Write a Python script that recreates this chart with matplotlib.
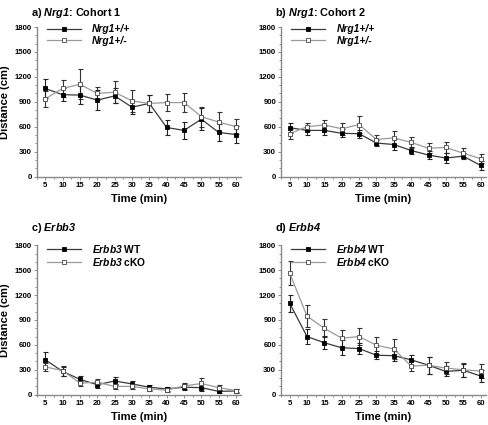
import matplotlib
matplotlib.use("Agg")
import matplotlib.pyplot as plt
from matplotlib.ticker import MultipleLocator
from matplotlib.font_manager import FontProperties
import numpy as np

plt.rcParams['font.family'] = ['Liberation Sans', 'DejaVu Sans']
plt.rcParams['mathtext.fontset'] = 'custom'
plt.rcParams['mathtext.rm'] = 'Liberation Sans:bold'
plt.rcParams['mathtext.it'] = 'Liberation Sans:italic:bold'
plt.rcParams['mathtext.bf'] = 'Liberation Sans:bold'
plt.rcParams['mathtext.bfit'] = 'Liberation Sans:italic:bold'

time = [5, 10, 15, 20, 25, 30, 35, 40, 45, 50, 55, 60]

# Panel a: Nrg1 cohort 1
a_wt = [1060, 985, 980, 920, 970, 835, 880, 590, 555, 690, 530, 505]
a_wt_err = [110, 80, 110, 120, 90, 80, 100, 90, 100, 130, 100, 100]
a_het = [935, 1060, 1110, 1000, 1015, 910, 880, 890, 890, 720, 655, 600]
a_het_err = [100, 100, 180, 80, 130, 130, 100, 100, 110, 120, 120, 90]

# Panel b: Nrg1 cohort 2
b_wt = [588, 555, 555, 520, 515, 403, 385, 313, 258, 222, 245, 133]
b_wt_err = [60, 50, 50, 50, 50, 40, 70, 40, 50, 60, 40, 50]
b_het = [515, 600, 620, 575, 625, 445, 465, 410, 340, 350, 280, 215]
b_het_err = [60, 50, 65, 75, 100, 60, 80, 70, 60, 70, 60, 50]

# Panel c: Erbb3
c_wt = [422, 281, 185, 120, 165, 130, 90, 70, 90, 85, 40, 45]
c_wt_err = [90, 50, 45, 35, 45, 40, 30, 25, 35, 40, 20, 20]
c_ko = [335, 290, 140, 150, 100, 100, 70, 55, 105, 135, 85, 50]
c_ko_err = [50, 60, 30, 35, 30, 30, 25, 25, 40, 70, 30, 20]

# Panel d: Erbb4
d_wt = [1100, 700, 625, 565, 555, 475, 470, 420, 355, 280, 295, 225]
d_wt_err = [100, 90, 80, 90, 70, 50, 60, 60, 100, 60, 80, 70]
d_ko = [1465, 945, 800, 680, 700, 595, 550, 345, 355, 320, 300, 285]
d_ko_err = [140, 135, 110, 100, 100, 100, 120, 60, 100, 75, 85, 80]

W, H = 488, 425
fig = plt.figure(figsize=(W / 100, H / 100), dpi=100)

col_left = [36.5 / W, 281.0 / W]
row_bottom = [1 - 176.5 / H, 1 - 394.7 / H]
aw = 204.8 / W
ah = 149.5 / H

GRAY_SPINE = '#8a8a8a'
panels = [
    (0, 0, a_wt, a_wt_err, a_het, a_het_err, ['Nrg1+/+', 'Nrg1+/-'], 'a)', r'$\mathbfit{Nrg1}$: Cohort 1', True, True),
    (0, 1, b_wt, b_wt_err, b_het, b_het_err, ['Nrg1+/+', 'Nrg1+/-'], 'b)', r'$\mathbfit{Nrg1}$: Cohort 2', False, True),
    (1, 0, c_wt, c_wt_err, c_ko, c_ko_err, [r'$\mathbfit{Erbb3}$ WT', r'$\mathbfit{Erbb3}$ cKO'], 'c)', r'$\mathbfit{Erbb3}$', True, False),
    (1, 1, d_wt, d_wt_err, d_ko, d_ko_err, [r'$\mathbfit{Erbb4}$ WT', r'$\mathbfit{Erbb4}$ cKO'], 'd)', r'$\mathbfit{Erbb4}$', False, False),
]

for r, c, wt, wte, mu, mue, labels, letter, title, ylab, allital in panels:
    ax = fig.add_axes([col_left[c], row_bottom[r], aw, ah])
    ax.errorbar(time, mu, yerr=mue, fmt='none', ecolor='#333333', elinewidth=0.8,
                capsize=1.8, capthick=0.8, zorder=2)
    ax.errorbar(time, wt, yerr=wte, fmt='none', ecolor='#222222', elinewidth=0.8,
                capsize=1.8, capthick=0.8, zorder=2)
    l1, = ax.plot(time, wt, color='#3a3a3a', lw=0.9, marker='s', ms=3.4,
                  mfc='black', mec='black', mew=0.6, zorder=3)
    l2, = ax.plot(time, mu, color='#9a9a9a', lw=0.9, marker='s', ms=3.4,
                  mfc='white', mec='#444444', mew=0.6, zorder=4)
    ax.set_xlim(2.5, 61.5)
    ax.set_ylim(0, 1800)
    ax.set_xticks(time)
    ax.set_yticks([0, 300, 600, 900, 1200, 1500, 1800])
    ax.yaxis.set_minor_locator(MultipleLocator(100))
    ax.xaxis.set_minor_locator(MultipleLocator(2.5))
    for s in ['top', 'right']:
        ax.spines[s].set_visible(False)
    for s in ['left', 'bottom']:
        ax.spines[s].set_color(GRAY_SPINE)
        ax.spines[s].set_linewidth(1.0)
    ax.tick_params(which='both', direction='out', color=GRAY_SPINE, width=0.7)
    ax.tick_params(which='major', length=2.4)
    ax.tick_params(which='minor', length=1.5)
    ax.tick_params(axis='y', pad=1.2)
    ax.tick_params(axis='x', pad=1.5)
    for lab in ax.get_xticklabels() + ax.get_yticklabels():
        lab.set_fontsize(5.6)
        lab.set_fontweight('bold')
    ax.set_xlabel('Time (min)', fontsize=8, fontweight='bold', labelpad=3.5)
    if ylab:
        ax.set_ylabel('Distance (cm)', fontsize=8.1, fontweight='bold', labelpad=3)
    if allital:
        prop = FontProperties(family='Liberation Sans', weight='bold', style='italic', size=7.4)
    else:
        prop = FontProperties(family='Liberation Sans', weight='bold', size=7.4)
    ax.legend([l1, l2], labels, loc='upper left', bbox_to_anchor=(0.03, 1.045),
              frameon=False, prop=prop, handlelength=3.3, handletextpad=1.1,
              labelspacing=0.12, borderaxespad=0.0)
    ytitle = 1 - (12.5 if r == 0 else 228.5) / H
    xtitle = (31 if c == 0 else 275) / W
    fig.text(xtitle, ytitle, letter + ' ' + title, fontsize=7.8, fontweight='bold',
             va='center', ha='left')

fig.savefig('out.png', dpi=100)
